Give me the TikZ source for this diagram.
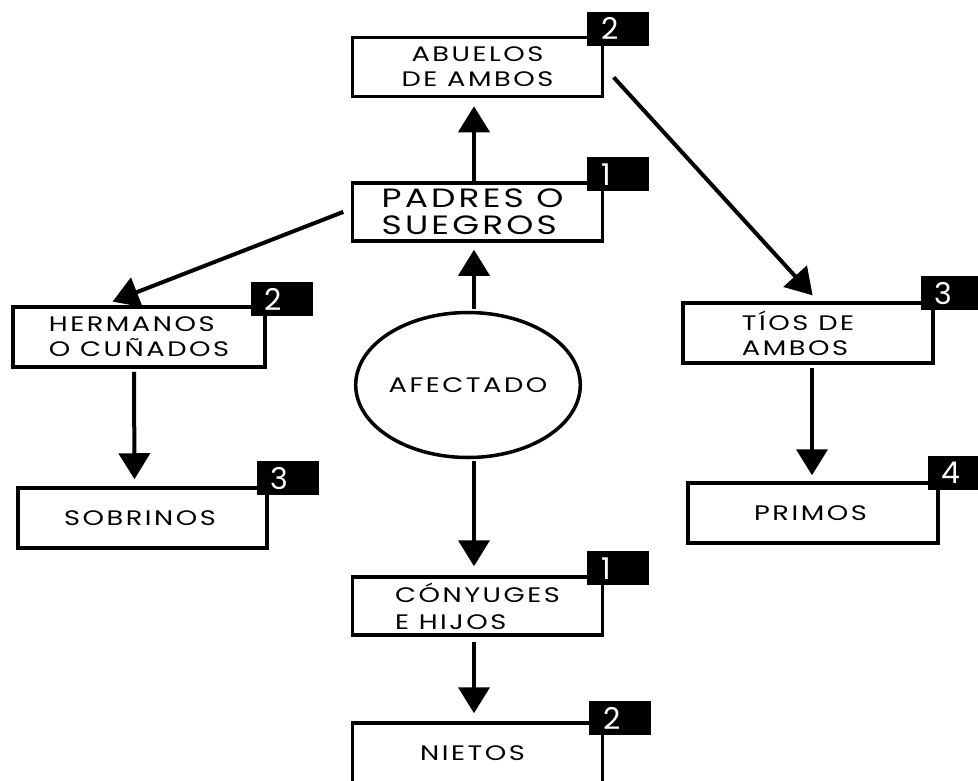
\documentclass[tikz,border=0pt]{standalone}
\usepackage{fontspec}
\setmainfont{Poppins}
\usetikzlibrary{arrows.meta,shapes.geometric,calc}
\newfontfamily\boxfont{Poppins}[FakeStretch=1.3,LetterSpace=12]
\newfontfamily\numfont{Poppins}
\begin{document}
\begin{tikzpicture}[x=1pt,y=-1pt,
  famBox/.style={draw=black,line width=3.5pt,rectangle,minimum width=250pt,minimum height=59pt,
     inner sep=0pt,align=left,font=\boxfont\fontsize{21}{25}\selectfont},
  bigText/.style={font=\boxfont\fontsize{26.5}{26}\selectfont},
  numBox/.style={fill=black,draw=none,rectangle,inner sep=0pt,minimum height=34pt,
     text width=62pt,align=left,text=white,font=\numfont\fontsize{30}{30}\selectfont},
  famArrow/.style={line width=4pt,-{Triangle[length=26pt,width=31pt]}}
]
\useasboundingbox (0,0) rectangle (978,780);
\fill[white] (0,0) rectangle (978,780);

% boxes
\node[famBox,align=center] (abuelos) at (477.5,67) {ABUELOS\\DE AMBOS};
\node[famBox,bigText,minimum height=58pt] (padres) at (477.5,212) {PADRES O\rule{10pt}{0pt}\\[1pt]SUEGROS};
\node[famBox,minimum width=252pt,minimum height=60pt] (hermanos) at (139,337) {HERMANOS\\O CUÑADOS};
\node[famBox,minimum width=249pt,minimum height=60pt] (sobrinos) at (142.5,518) {SOBRINOS\rule{5pt}{0pt}};
\node[famBox,minimum width=250pt,minimum height=60pt] (tios) at (808,333) {TÍOS DE\rule{20pt}{0pt}\\AMBOS};
\node[famBox,minimum width=250pt,minimum height=60pt] (primos) at (813,513) {PRIMOS\rule{5pt}{0pt}};
\node[famBox,minimum height=58pt] (conyuges) at (477.5,606) {CÓNYUGES\\[2pt]E HIJOS};
\node[famBox,minimum height=60pt] (nietos) at (477.5,753) {NIETOS\rule{10pt}{0pt}};
\node[draw=black,line width=3.5pt,ellipse,minimum width=210pt,minimum height=145pt,inner sep=0pt,
  font=\boxfont\fontsize{21}{25}\selectfont] (afectado) at (468,385) {AFECTADO};

% number tags
\node[numBox] (nAbuelos) at ($(abuelos.north east)+(14,-7)$) {\hspace*{14pt}2};
\node[numBox] (nPadres) at ($(padres.north east)+(14,-7)$) {\hspace*{14pt}1};
\node[numBox] (nHermanos) at ($(hermanos.north east)+(15,-6)$) {\hspace*{14pt}2};
\node[numBox] (nSobrinos) at ($(sobrinos.north east)+(19,-8)$) {\hspace*{14pt}3};
\node[numBox] (nTios) at ($(tios.north east)+(17,-8)$) {\hspace*{14pt}3};
\node[numBox] (nPrimos) at ($(primos.north east)+(19,-8)$) {\hspace*{14pt}4};
\node[numBox] (nConyuges) at ($(conyuges.north east)+(14,-7)$) {\hspace*{14pt}1};
\node[numBox] (nNietos) at ($(nietos.north east)+(16,-3)$) {\hspace*{14pt}2};

% arrows
\draw[famArrow,shorten >=8pt] ($(padres.north)+(-3.5,0)$) -- ($(abuelos.south)+(-3.5,0)$);
\draw[famArrow,shorten <=2pt,shorten >=7pt] ($(afectado.north)+(6,0)$) -- ($(padres.south)+(-3.5,0)$);
\draw[famArrow,shorten <=2pt,shorten >=9pt] ($(afectado.south)+(6,0)$) -- ($(conyuges.north)+(-3.5,0)$);
\draw[famArrow,shorten <=5pt,shorten >=8pt] ($(conyuges.south)+(-3.5,0)$) -- ($(nietos.north)+(-3.5,0)$);
\draw[famArrow,shorten <=3pt,shorten >=7pt] ($(hermanos.south)+(-5,0)$) -- ($(sobrinos.north)+(-8,0)$);
\draw[famArrow,shorten <=3pt,shorten >=6pt] ($(tios.south)+(4,0)$) -- ($(primos.north)+(-1,0)$);
\draw[famArrow,shorten <=8pt,shorten >=10pt] ($(padres.west)+(0,-3)$) -- ($(hermanos.north west)+(92,0)$);
\draw[famArrow,shorten <=14pt,shorten >=8pt] (abuelos.east) -- ($(tios.north)+(10,0)$);
\end{tikzpicture}
\end{document}
